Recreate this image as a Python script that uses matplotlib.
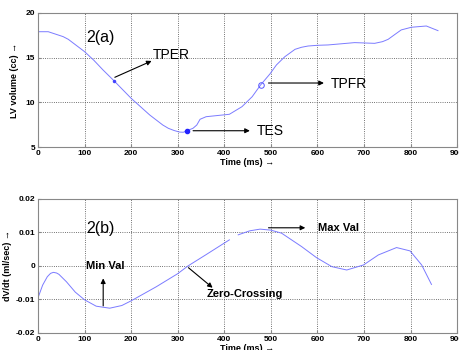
import numpy as np
import matplotlib
matplotlib.use('Agg')
import matplotlib.pyplot as plt

plt.rcParams['font.family'] = ['Liberation Sans', 'DejaVu Sans']

# LV volume curve (top panel)
t_vol = [0, 22, 54, 65, 100, 120, 140, 163, 200, 240, 268, 280, 292, 304, 312, 320, 333, 341, 348,
         361, 411, 438, 460, 478, 498, 512, 530, 552, 566, 580, 600, 623, 680, 723, 740, 752, 765,
         780, 802, 834, 859]
vol = [17.9, 17.9, 17.35, 17.05, 15.67, 14.7, 13.6, 12.42, 10.45, 8.58, 7.46, 7.09, 6.85, 6.67, 6.65,
       6.82, 7.1, 7.46, 8.1, 8.39, 8.66, 9.51, 10.63, 11.94, 13.17, 14.18, 15.1, 15.93, 16.16,
       16.3, 16.38, 16.42, 16.68, 16.6, 16.79, 17.05, 17.54, 18.1, 18.4, 18.54, 18.02]

# dV/dt curve (bottom panel), two pieces with a small gap
t_dv1 = [0, 10, 20, 27, 33, 40, 45, 61, 80, 100, 125, 154, 180, 200, 254, 300, 322, 360, 411]
dv1 = [-0.0095, -0.0057, -0.0032, -0.0022, -0.0019, -0.0021, -0.0025, -0.0047, -0.0078, -0.0101,
       -0.012, -0.0126, -0.0118, -0.0104, -0.0062, -0.0023, 0.0, 0.0033, 0.0078]
t_dv2 = [430, 455, 477, 500, 523, 566, 598, 631, 663, 699, 731, 770, 799, 824, 845]
dv2 = [0.0093, 0.0105, 0.011, 0.0107, 0.0098, 0.0058, 0.0025, -0.0002, -0.0012, 0.0003,
       0.0033, 0.0055, 0.0045, 0.0003, -0.0055]

# marked points
tper = (163, 12.42)
tes = (320, 6.82)
tpfr = (478, 11.94)

xticks = list(range(0, 901, 100))
yticks_a = [5, 10, 15, 20]
yticks_b = [-0.02, -0.01, 0, 0.01, 0.02]
yticklabels_b = ['-0.02', '-0.01', '0', '0.01', '0.02']

line_col = '#7b7bff'
arrow = dict(arrowstyle='-|>', color='k', lw=0.8, mutation_scale=7, shrinkA=0, shrinkB=0)

fig = plt.figure(figsize=(4.59, 3.5), dpi=100)
ax1 = fig.add_axes([0.0828, 0.58, 0.913, 0.383])
ax2 = fig.add_axes([0.0828, 0.0486, 0.913, 0.3829])


def style(ax):
    ax.set_xlim(0, 900)
    ax.set_xticks(xticks)
    ax.grid(True, color='#444444', linestyle=':', linewidth=0.6)
    for s in ax.spines.values():
        s.set_color('#888888')
        s.set_linewidth(0.8)
    ax.tick_params(direction='in', length=2, color='#888888', labelsize=6, pad=2)
    for lab in ax.get_xticklabels() + ax.get_yticklabels():
        lab.set_fontweight('bold')


# top panel
ax1.plot(t_vol, vol, color=line_col, lw=0.7)
ax1.plot(*tper, '.', color='#4444ff', ms=3)
ax1.plot(*tes, 'o', color='#2222ff', ms=3)
ax1.plot(*tpfr, 'o', mfc='none', mec='#5555ff', ms=4, mew=0.7)
ax1.set_ylim(5, 20)
ax1.set_yticks(yticks_a)
style(ax1)
ax1.set_xlabel('Time (ms) \u2192', fontsize=6.5, fontweight='bold', labelpad=1)
ax1.set_ylabel('LV volume (cc) \u2192', fontsize=6.5, fontweight='bold', labelpad=5)
ax1.text(103, 17.3, '2(a)', fontsize=11.5, va='center')
ax1.annotate('', xy=(244, 14.63), xytext=(165, 12.8), arrowprops=arrow)
ax1.text(247, 15.3, 'TPER', fontsize=10, va='center')
ax1.annotate('', xy=(455, 6.82), xytext=(333, 6.82), arrowprops=arrow)
ax1.text(470, 6.75, 'TES', fontsize=10, va='center')
ax1.annotate('', xy=(614, 12.16), xytext=(495, 12.16), arrowprops=arrow)
ax1.text(629, 12.1, 'TPFR', fontsize=10, va='center')

# bottom panel
ax2.plot(t_dv1, dv1, color=line_col, lw=0.7)
ax2.plot(t_dv2, dv2, color=line_col, lw=0.7)
ax2.set_ylim(-0.02, 0.02)
ax2.set_yticks(yticks_b)
ax2.set_yticklabels(yticklabels_b)
style(ax2)
ax2.set_xlabel('Time (ms) \u2192', fontsize=6.5, fontweight='bold', labelpad=1)
ax2.set_ylabel('dV/dt (ml/sec) \u2192', fontsize=6.5, fontweight='bold', labelpad=3)
ax2.text(103, 0.0113, '2(b)', fontsize=11.5, va='center')
ax2.text(103, 0.0001, 'Min Val', fontsize=8, fontweight='bold', va='center')
ax2.annotate('', xy=(140, -0.0037), xytext=(140, -0.0119), arrowprops=arrow)
ax2.annotate('', xy=(375, -0.0065), xytext=(323, -0.0005), arrowprops=arrow)
ax2.text(363, -0.0084, 'Zero-Crossing', fontsize=8, fontweight='bold', va='center')
ax2.annotate('', xy=(574, 0.0114), xytext=(495, 0.0114), arrowprops=arrow)
ax2.text(602, 0.0114, 'Max Val', fontsize=8, fontweight='bold', va='center')

fig.savefig('out.png', dpi=100)
